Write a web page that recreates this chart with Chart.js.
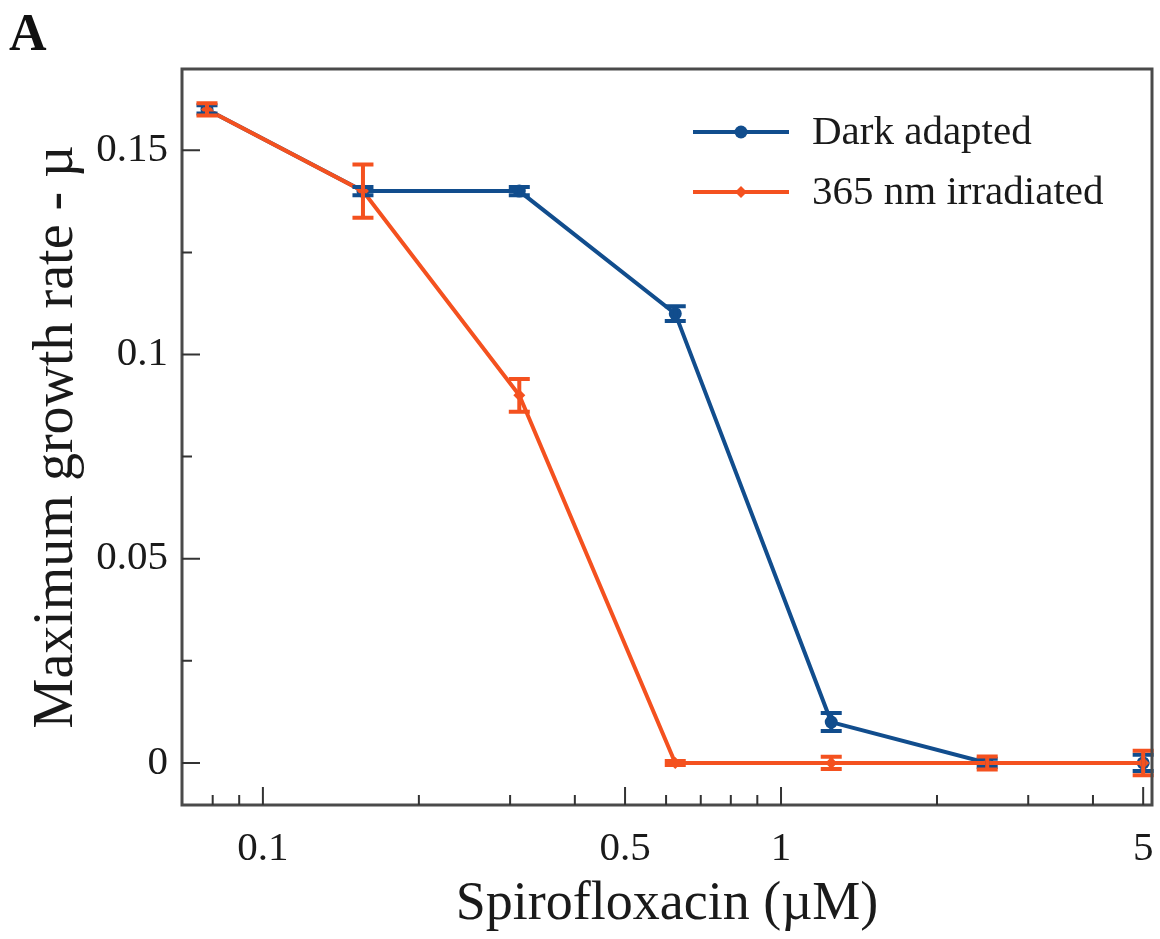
<!DOCTYPE html>
<html>
<head>
<meta charset="utf-8">
<script src="https://cdn.jsdelivr.net/npm/chart.js@4/dist/chart.umd.min.js"></script>
<style>
  html, body { margin: 0; padding: 0; background: #fff; }
  #wrap { width: 1160px; height: 939px; }
</style>
</head>
<body>
<div id="wrap"><canvas id="c" width="1160" height="939"></canvas></div>
<script>
// ---- data ----
const concentrations = [0.078, 0.156, 0.3125, 0.625, 1.25, 2.5, 5];
const darkValues = [0.160, 0.140, 0.140, 0.110, 0.010, 0.000, 0.000];
const darkErrors = [0.001, 0.001, 0.001, 0.0018, 0.0022, 0.001, 0.002];
const uvValues = [0.160, 0.140, 0.090, 0.000, 0.000, 0.000, 0.000];
const uvErrors = [0.0015, 0.0065, 0.004, 0.0005, 0.0015, 0.0016, 0.003];
const seriesLabels = ["Dark adapted", "365 nm irradiated"];
const xTickValues = [0.1, 0.5, 1, 5];
const xTickLabels = ["0.1", "0.5", "1", "5"];
const xMinorTicks = [0.08, 0.09, 0.2, 0.3, 0.4, 0.6, 0.7, 0.8, 0.9, 2, 3, 4];
const yTickValues = [0, 0.05, 0.1, 0.15];
const yTickLabels = ["0", "0.05", "0.1", "0.15"];
const yMinorTicks = [0.025, 0.075, 0.125];
const xTitle = "Spirofloxacin (\u00b5M)";
const yTitle = "Maximum growth rate - \u00b5";
const panelLabel = "A";

const BLUE = "#114d8d";
const ORANGE = "#f4511f";
const FONT = "'Liberation Serif', 'Times New Roman', serif";

function pts(xs, ys) { return xs.map((x, i) => ({ x: x, y: ys[i] })); }

const errorBars = {
  id: "errorBars",
  afterDatasetsDraw(chart) {
    const ctx = chart.ctx;
    const ys = chart.scales.y, xs = chart.scales.x;
    [0, 1].forEach(di => {
      const ds = chart.data.datasets[di];
      const errs = ds.errors;
      ctx.save();
      ctx.strokeStyle = ds.borderColor;
      ctx.lineWidth = 4;
      ds.data.forEach((p, i) => {
        const px = xs.getPixelForValue(p.x);
        const yt = ys.getPixelForValue(p.y + errs[i]);
        const yb = ys.getPixelForValue(p.y - errs[i]);
        const cw = 10.5;
        ctx.beginPath();
        ctx.moveTo(px, yt); ctx.lineTo(px, yb);
        ctx.moveTo(px - cw, yt); ctx.lineTo(px + cw, yt);
        ctx.moveTo(px - cw, yb); ctx.lineTo(px + cw, yb);
        ctx.stroke();
      });
      ctx.restore();
    });
  }
};

const frameAndTicks = {
  id: "frameAndTicks",
  afterDraw(chart) {
    const ctx = chart.ctx;
    const a = chart.chartArea;
    const xs = chart.scales.x, ys = chart.scales.y;
    ctx.save();
    ctx.strokeStyle = "#4a4a4a";
    ctx.lineWidth = 3;
    ctx.strokeRect(a.left, a.top, a.right - a.left, a.bottom - a.top);
    ctx.lineWidth = 2;
    ctx.strokeStyle = "#333";
    ctx.beginPath();
    xTickValues.forEach(v => { const p = xs.getPixelForValue(v); ctx.moveTo(p, a.bottom); ctx.lineTo(p, a.bottom - 18); });
    xMinorTicks.forEach(v => { const p = xs.getPixelForValue(v); ctx.moveTo(p, a.bottom); ctx.lineTo(p, a.bottom - 10); });
    yTickValues.forEach(v => { const p = ys.getPixelForValue(v); ctx.moveTo(a.left, p); ctx.lineTo(a.left + 18, p); });
    yMinorTicks.forEach(v => { const p = ys.getPixelForValue(v); ctx.moveTo(a.left, p); ctx.lineTo(a.left + 10, p); });
    ctx.stroke();

    // legend
    const rows = [132, 192];
    chart.data.datasets.forEach((ds, i) => {
      const y = rows[i];
      ctx.strokeStyle = ds.borderColor;
      ctx.lineWidth = 4;
      ctx.beginPath(); ctx.moveTo(693, y); ctx.lineTo(789, y); ctx.stroke();
      ctx.fillStyle = ds.borderColor;
      ctx.beginPath();
      if (ds.pointStyle === "circle") { ctx.arc(741, y, 6.5, 0, Math.PI * 2); }
      else { ctx.moveTo(741, y - 6); ctx.lineTo(747, y); ctx.lineTo(741, y + 6); ctx.lineTo(735, y); ctx.closePath(); }
      ctx.fill();
      ctx.fillStyle = "#1a1a1a";
      ctx.font = "41px " + FONT;
      ctx.textBaseline = "middle";
      ctx.textAlign = "left";
      ctx.fillText(ds.label, 812, y + 1);
    });

    // panel label
    ctx.fillStyle = "#111";
    ctx.font = "bold 52px " + FONT;
    ctx.textBaseline = "alphabetic";
    ctx.fillText(panelLabel, 9, 50);
    ctx.restore();
  }
};

new Chart(document.getElementById("c"), {
  type: "line",
  data: {
    datasets: [
      {
        label: seriesLabels[0],
        data: pts(concentrations, darkValues),
        errors: darkErrors,
        borderColor: BLUE, backgroundColor: BLUE,
        borderWidth: 4, pointStyle: "circle", pointRadius: 6.5,
        pointBorderWidth: 0, order: 2, tension: 0
      },
      {
        label: seriesLabels[1],
        data: pts(concentrations, uvValues),
        errors: uvErrors,
        borderColor: ORANGE, backgroundColor: ORANGE,
        borderWidth: 4, pointStyle: "rectRot", pointRadius: 6,
        pointBorderWidth: 0, order: 1, tension: 0
      }
    ]
  },
  options: {
    responsive: false,
    animation: false,
    devicePixelRatio: 1,
    layout: { padding: { top: 69, right: 8, left: 0, bottom: 0 } },
    plugins: { legend: { display: false }, tooltip: { enabled: false } },
    scales: {
      x: {
        type: "logarithmic",
        min: 0.0698, max: 5.2,
        afterBuildTicks: s => { s.ticks = xTickValues.map(v => ({ value: v })); },
        afterFit: s => { s.height = 134; s.paddingLeft = 0; s.paddingRight = 0; },
        grid: { display: false, drawTicks: false },
        border: { display: false },
        ticks: {
          autoSkip: false, maxRotation: 0, padding: 20,
          color: "#1a1a1a", font: { family: FONT, size: 41 },
          callback: v => { const i = xTickValues.indexOf(v); return i >= 0 ? xTickLabels[i] : ""; }
        },
        title: {
          display: true, text: xTitle, color: "#1a1a1a",
          font: { family: FONT, size: 54, lineHeight: 1 },
          padding: { top: 0, bottom: 7 }
        }
      },
      y: {
        type: "linear",
        min: -0.0103, max: 0.1699,
        afterBuildTicks: s => { s.ticks = yTickValues.map(v => ({ value: v })); },
        afterFit: s => { s.width = 182; s.paddingTop = 0; s.paddingBottom = 0; },
        grid: { display: false, drawTicks: false },
        border: { display: false },
        ticks: {
          padding: 14, color: "#1a1a1a", font: { family: FONT, size: 41 },
          callback: v => { const i = yTickValues.findIndex(t => Math.abs(t - v) < 1e-9); return i >= 0 ? yTickLabels[i] : ""; }
        },
        title: {
          display: true, text: yTitle, color: "#1a1a1a",
          font: { family: FONT, size: 56, lineHeight: 1 },
          padding: { top: 29, bottom: 0 }
        }
      }
    }
  },
  plugins: [errorBars, frameAndTicks]
});
</script>
</body>
</html>
